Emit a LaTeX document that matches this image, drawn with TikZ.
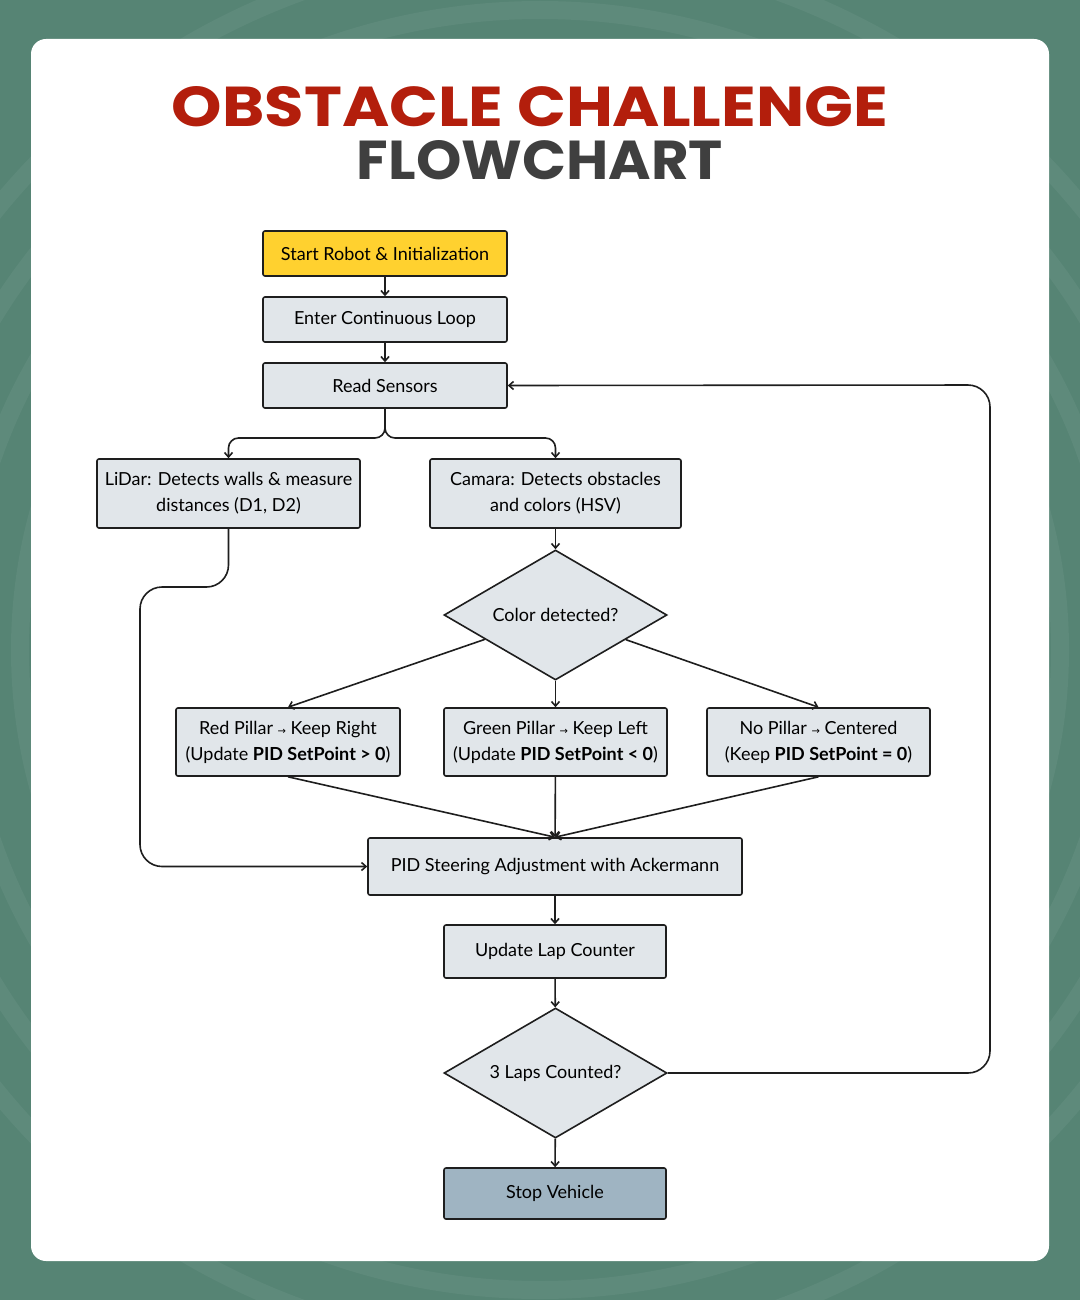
\documentclass[tikz,border=0pt]{standalone}
\usepackage{fontspec}
\setmainfont{Lato}
\newfontfamily\titlefont{Poppins}
\newfontfamily\symfont{DejaVu Sans}
\usetikzlibrary{shapes.geometric,arrows.meta,calc}
\definecolor{bggreen}{HTML}{568474}
\definecolor{nodefill}{HTML}{E1E6EA}
\definecolor{startfill}{HTML}{FFD12F}
\definecolor{stopfill}{HTML}{9FB4C2}
\definecolor{border}{HTML}{1E1E1E}
\definecolor{titlered}{HTML}{B31E0C}
\definecolor{titlegray}{HTML}{3F3F3F}
\newcommand\ra{{\symfont\fontsize{10}{10}\selectfont →}}
\newcommand\ttlA{\resizebox{716pt}{40pt}{\titlefont\bfseries OBSTACLE CHALLENGE}}
\newcommand\ttlB{\resizebox{366pt}{39pt}{\titlefont\bfseries FLOWCHART}}
\begin{document}
\begin{tikzpicture}[x=1pt,y=-1pt,
  box/.style={draw=border, fill=nodefill, line width=1.6pt, rounded corners=2pt,
    inner sep=0pt, align=center, font=\fontsize{18}{26}\selectfont},
  dec/.style={draw=border, fill=nodefill, line width=1.6pt, diamond, aspect=1.715,
    minimum width=223pt, minimum height=130pt, inner sep=0pt, align=center,
    font=\fontsize{18}{26}\selectfont},
  arr/.style={draw=border, line width=1.6pt, -{Straight Barb[length=4.5pt,width=8pt]}}]
\useasboundingbox (0,0) rectangle (1080,1300);
% background
\fill[bggreen] (0,0) rectangle (1080,1300);
\foreach \r in {520,580,640,700}
  \draw[white, opacity=0.05, line width=18pt] (540,650) circle[radius=\r];
\fill[white, rounded corners=15pt] (31,39) rectangle (1049,1261);
% title
\node[inner sep=0pt, text=titlered] (t1) at (530,107) {\ttlA};
\node[inner sep=0pt, text=titlegray] (t2) at (540,160.5) {\ttlB};
% nodes
\node[box, fill=startfill, minimum width=244pt, minimum height=45pt] (start) at (385,253.5) {Start Robot \& Initialization};
\node[box, minimum width=244pt, minimum height=45pt] (enter) at (385,319.5) {Enter Continuous Loop};
\node[box, minimum width=244pt, minimum height=45pt] (read) at (385,385.5) {Read Sensors};
\node[box, minimum width=263pt, minimum height=69pt] (lidar) at (228.5,493.5) {LiDar: Detects walls \& measure\\distances (D1, D2)};
\node[box, minimum width=251pt, minimum height=69pt] (cam) at (555.5,493.5) {Camara: Detects obstacles\\and colors (HSV)};
\node[dec] (color) at (555.5,615) {Color detected?};
\node[box, minimum width=224pt, minimum height=68pt] (red) at (288,742) {Red Pillar \ra{} Keep Right\\(Update \textbf{PID SetPoint > 0})};
\node[box, minimum width=223pt, minimum height=68pt] (green) at (555.5,742) {Green Pillar \ra{} Keep Left\\(Update \textbf{PID SetPoint < 0})};
\node[box, minimum width=223pt, minimum height=68pt] (nop) at (818.5,742) {No Pillar \ra{} Centered\\(Keep \textbf{PID SetPoint = 0})};
\node[box, minimum width=374pt, minimum height=57pt] (pid) at (555,866.5) {PID Steering Adjustment with Ackermann};
\node[box, minimum width=222pt, minimum height=53pt] (lap) at (555,951.5) {Update Lap Counter};
\node[dec] (laps) at (555.5,1073) {3 Laps Counted?};
\node[box, fill=stopfill, minimum width=222pt, minimum height=51pt] (stop) at (555,1193.5) {Stop Vehicle};
% connectors
\draw[arr] (start) -- (enter);
\draw[arr] (enter) -- (read);
\draw[arr, rounded corners=10pt] (read.south) -- (read.south |- 0,438) -| (lidar.north);
\draw[arr, rounded corners=10pt] (read.south) -- (read.south |- 0,438) -| (cam.north);
\draw[arr, rounded corners=22pt] (lidar.south) |- (140,587) |- (pid.west);
\draw[arr] (cam) -- (color);
\draw[arr] (color) -- (red.north);
\draw[arr] (color) -- (green);
\draw[arr] (color) -- (nop.north);
\draw[arr] (red.south) -- (pid.north);
\draw[arr] (green) -- (pid);
\draw[arr] (nop.south) -- (pid.north);
\draw[arr] (pid) -- (lap);
\draw[arr] (lap) -- (laps);
\draw[arr] (laps) -- (stop);
\draw[arr, rounded corners=22pt] (laps.east) -| (990,385) -- (read.east);
\end{tikzpicture}
\end{document}
